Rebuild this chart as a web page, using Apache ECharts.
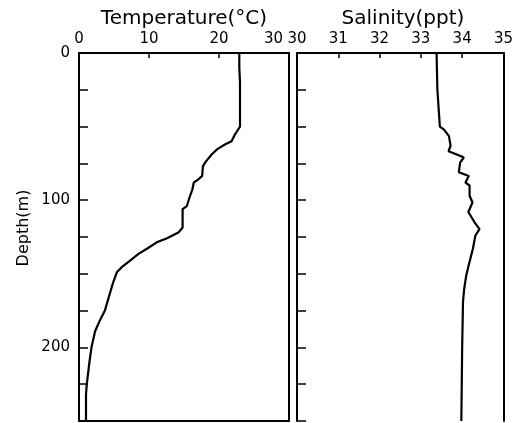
<!DOCTYPE html>
<html>
<head>
<meta charset="utf-8">
<script src="https://cdn.jsdelivr.net/npm/echarts@6/dist/echarts.min.js"></script>
<style>
html,body{margin:0;padding:0;background:#fff;}
#chart{width:516px;height:423px;}
</style>
</head>
<body>
<div id="chart"></div>
<script>
// Temperature profile (depth in m, temperature in °C)
var tempDepth = [0, 10, 20, 30, 40, 50, 53, 56, 60, 62, 65.5, 69, 74.5, 77, 83.5, 86, 88, 92.6, 98, 104, 106, 118.5, 122, 126, 128.6, 133, 136.5, 141, 145.5, 149, 155.6, 163.5, 175, 181.5, 189, 199.5, 209.7, 225.5, 232, 240, 250];
var tempValue = [22.9, 22.9, 23.0, 23.0, 23.0, 23.0, 22.6, 22.2, 21.8, 20.9, 19.7, 18.95, 18.0, 17.7, 17.6, 17.0, 16.4, 16.2, 15.8, 15.4, 14.8, 14.8, 14.2, 12.5, 11.1, 9.7, 8.5, 7.3, 6.1, 5.4, 4.9, 4.4, 3.7, 3.0, 2.3, 1.8, 1.5, 1.1, 1.0, 1.0, 1.0];
// Salinity profile (depth in m, salinity in ppt)
var salDepth = [0, 25, 50, 52, 56.5, 63, 66.7, 70, 71, 74.5, 81, 83.6, 88, 90, 97, 101.6, 108, 115, 119.6, 124, 133, 144, 151, 160, 169, 200, 250];
var salValue = [33.38, 33.40, 33.46, 33.56, 33.68, 33.72, 33.67, 33.96, 34.04, 33.95, 33.92, 34.16, 34.08, 34.18, 34.18, 34.25, 34.15, 34.30, 34.42, 34.32, 34.26, 34.16, 34.10, 34.05, 34.02, 34.0, 33.98];
// Axis ranges / labels
var depthLabels = [0, 100, 200];
var tempTicks = [0, 10, 20, 30];
var salTicks = [30, 31, 32, 33, 34, 35];

var FONT = 'DejaVu Sans';
var TICK_FS = 15;
function zip(xs, ys) { return xs.map(function (x, i) { return [x, ys[i]]; }); }

var chart = echarts.init(document.getElementById('chart'), null, {renderer: 'canvas'});

function topAxis(gridIndex, ticks, alignMax) {
  var min = ticks[0], max = ticks[ticks.length - 1];
  return {
    type: 'value', gridIndex: gridIndex, position: 'top', min: min, max: max, interval: ticks[1] - ticks[0],
    axisLine: {show: true, onZero: false, lineStyle: {color: '#000', width: 2}},
    axisTick: {show: true, inside: true, length: 5, lineStyle: {color: '#000', width: 1.5}},
    axisLabel: {show: true, margin: 6, color: '#000', fontFamily: FONT, fontSize: TICK_FS,
      alignMaxLabel: alignMax,
      formatter: function (v) { return (alignMax === 'right' && v === max) ? '{r|' + v + '}' : String(v); },
      rich: {r: {padding: [0, 6, 0, 0], color: '#000', fontFamily: FONT, fontSize: TICK_FS}}},
    splitLine: {show: false}
  };
}
function bottomAxis(gridIndex, ticks, showLine) {
  return {
    type: 'value', gridIndex: gridIndex, position: 'bottom', min: ticks[0], max: ticks[ticks.length - 1],
    axisLine: {show: showLine, onZero: false, lineStyle: {color: '#000', width: 2}},
    axisTick: {show: false}, axisLabel: {show: false}, splitLine: {show: false}
  };
}
function leftAxis(gridIndex, labels) {
  return {
    type: 'value', gridIndex: gridIndex, position: 'left', inverse: true, min: 0, max: 250, interval: 25,
    axisLine: {show: true, onZero: false, lineStyle: {color: '#000', width: 2}},
    axisTick: {show: true, inside: true, length: 9, lineStyle: {color: '#000', width: 1.5}},
    axisLabel: {show: labels, margin: 9, color: '#000', fontFamily: FONT, fontSize: TICK_FS,
      formatter: function (v) { return depthLabels.indexOf(v) >= 0 ? String(v) : ''; }},
    splitLine: {show: false}
  };
}
function rightAxis(gridIndex) {
  return {
    type: 'value', gridIndex: gridIndex, position: 'right', inverse: true, min: 0, max: 250,
    axisLine: {show: true, onZero: false, lineStyle: {color: '#000', width: 2}},
    axisTick: {show: false}, axisLabel: {show: false}, splitLine: {show: false}
  };
}

var option = {
  backgroundColor: '#fff',
  animation: false,
  grid: [
    {left: 79, top: 53, width: 210, height: 368},
    {left: 297, top: 53, width: 209, height: 368}
  ],
  xAxis: [
    topAxis(0, tempTicks, 'right'),
    topAxis(1, salTicks, null),
    bottomAxis(0, tempTicks, true),
    bottomAxis(1, salTicks, false)
  ],
  yAxis: [
    leftAxis(0, true),
    leftAxis(1, false),
    rightAxis(0),
    rightAxis(1)
  ],
  graphic: [
    {type: 'text', x: 184, y: 19, style: {text: 'Temperature(°C)', fill: '#000', font: '20px "DejaVu Sans"', align: 'center', verticalAlign: 'middle'}},
    {type: 'text', x: 403, y: 19, style: {text: 'Salinity(ppt)', fill: '#000', font: '20px "DejaVu Sans"', align: 'center', verticalAlign: 'middle'}},
    {type: 'text', x: 24, y: 228, rotation: Math.PI / 2, style: {text: 'Depth(m)', fill: '#000', font: '16px "DejaVu Sans"', align: 'center', verticalAlign: 'middle'}}
  ],
  series: [
    {type: 'line', xAxisIndex: 0, yAxisIndex: 0, data: zip(tempValue, tempDepth), showSymbol: false, symbol: 'none',
      lineStyle: {color: '#000', width: 2.2}, silent: true},
    {type: 'line', xAxisIndex: 1, yAxisIndex: 1, data: zip(salValue, salDepth), showSymbol: false, symbol: 'none',
      lineStyle: {color: '#000', width: 2.2}, silent: true}
  ]
};
chart.setOption(option);
</script>
</body>
</html>
